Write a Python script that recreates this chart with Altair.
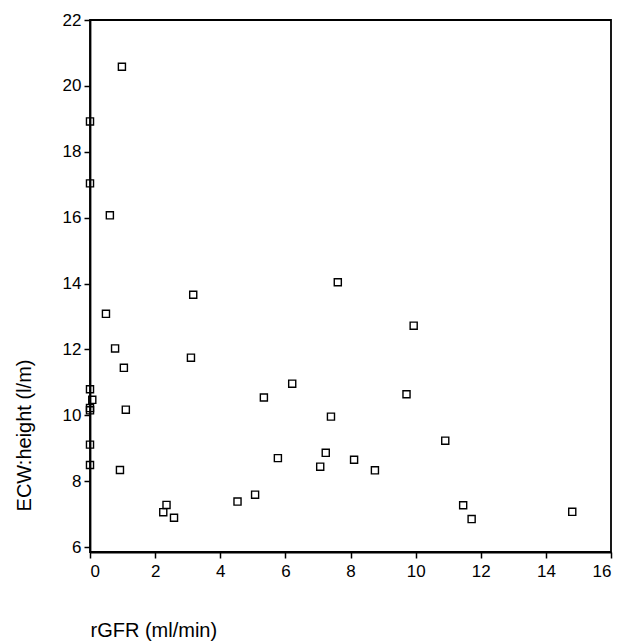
import altair as alt
import pandas as pd

rgfr = [0.98, 0.00, 0.00, 0.61, 3.17, 0.49, 0.77, 1.04, 3.10, 0.00, 0.07, 0.00, 0.00, 1.10,
        0.00, 0.00, 0.92, 2.25, 2.35, 2.58, 4.53, 5.07, 7.61, 9.94, 6.21, 5.34, 9.72, 7.40,
        5.77, 7.24, 7.07, 8.11, 8.75, 10.91, 11.46, 11.72, 14.81]
ecw = [20.58, 18.92, 17.04, 16.07, 13.66, 13.08, 12.03, 11.44, 11.75, 10.79, 10.47, 10.22, 10.15, 10.17,
       9.11, 8.49, 8.34, 7.06, 7.28, 6.89, 7.38, 7.59, 14.04, 12.72, 10.96, 10.54, 10.64, 9.96,
       8.70, 8.86, 8.44, 8.65, 8.33, 9.23, 7.27, 6.85, 7.07]
x_ticks = [0, 2, 4, 6, 8, 10, 12, 14, 16]
y_ticks = [6, 8, 10, 12, 14, 16, 18, 20, 22]

df = pd.DataFrame({"rgfr": rgfr, "ecw": ecw})

font = "Liberation Sans"

chart = alt.Chart(df).mark_point(
    shape="square", filled=False, color="black", size=50, strokeWidth=1.4, opacity=1
).encode(
    x=alt.X("rgfr:Q", scale=alt.Scale(domain=[0, 16], nice=False, zero=False),
            axis=alt.Axis(values=x_ticks, title="rGFR (ml/min)", grid=False, labelPadding=5,
                          titleAnchor="start", titleAlign="left", titleBaseline="middle",
                          titleX=0, titleY=78)),
    y=alt.Y("ecw:Q", scale=alt.Scale(domain=[5.85, 22], nice=False, zero=False),
            axis=alt.Axis(values=y_ticks, title="ECW:height (l/m)", grid=False,
                          titleAngle=270, titleAlign="center", titleBaseline="middle",
                          titleX=-66, titleY=415)),
).properties(
    width=521, height=532,
    background="white",
    autosize=alt.AutoSizeParams(type="none"),
    padding={"left": 90, "top": 20, "right": 12, "bottom": 89},
).configure_view(
    stroke="black", strokeWidth=1.8
).configure_axis(
    domainColor="black", domainWidth=1.8, tickColor="black", tickWidth=1.5, tickSize=6,
    labelFont=font, labelFontSize=17, labelColor="black", labelPadding=3,
    titleFont=font, titleFontSize=20, titleFontWeight="normal", titleColor="black",
)

chart.save("out.html", embed_options={"renderer": "svg", "actions": False})
